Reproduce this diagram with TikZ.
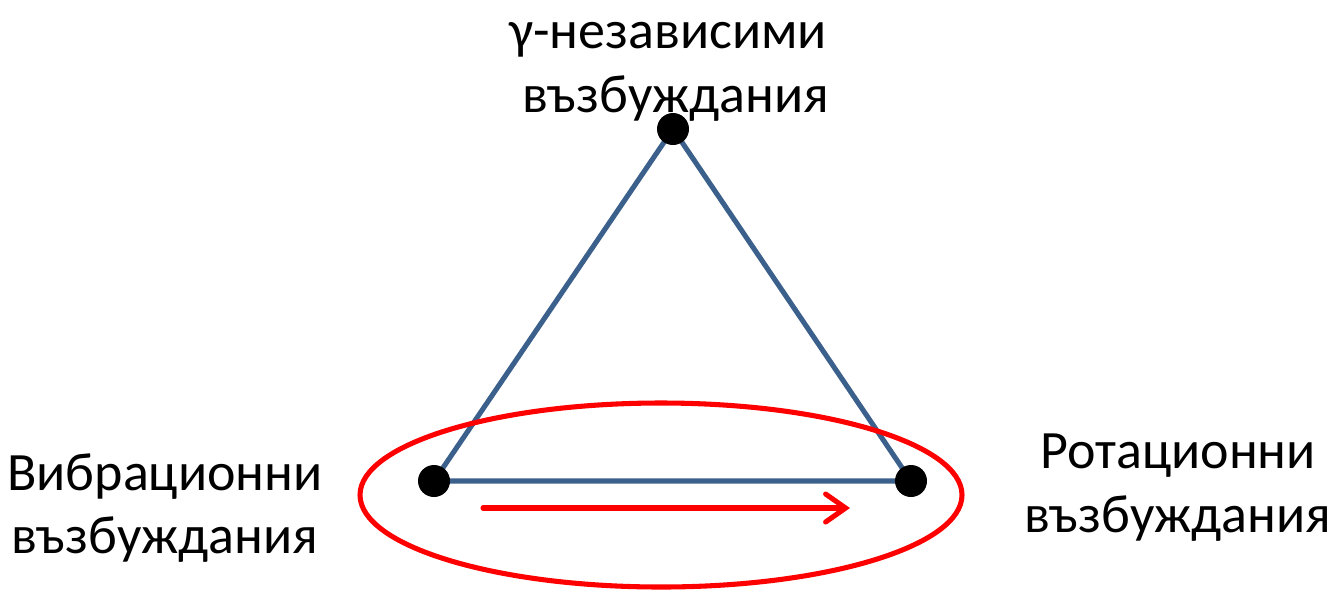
\documentclass[tikz,border=0pt]{standalone}
\usepackage{fontspec}
\setmainfont{Carlito}
\usetikzlibrary{arrows.meta,shapes.geometric}
\definecolor{edgeblue}{RGB}{60,96,140}
\tikzset{
  dot/.style={circle,fill=black,inner sep=0pt,minimum size=24pt},
  edge/.style={draw=edgeblue,line width=3.8pt},
  lbl/.style={anchor=base,inner sep=0pt,font=\fontsize{40.5}{48}\selectfont},
  ring/.style={ellipse,draw=red,line width=3.8pt,inner sep=0pt,minimum width=451.5pt,minimum height=138pt},
  flow/.style={draw=red,line width=3.8pt,line cap=round,-{Straight Barb[length=15pt,width=21pt,line cap=round]}}
}
\begin{document}
\begin{tikzpicture}[x=0.75pt,y=-0.75pt]
\useasboundingbox (0,0) rectangle (1333,594);
\coordinate (T) at (673,129);
\coordinate (L) at (434,481);
\coordinate (R) at (911,481);
\draw[edge] (L) -- (T) -- (R) -- (L);
\node[dot] (dT) at (T) {};
\node[dot] (dL) at (L) {};
\node[dot] (dR) at (R) {};
\node[ring] (E) at (661,495) {};
\coordinate (a1) at (483,508);
\coordinate (a2) at (850,508);
\draw[flow] (a1) -- (a2);
\node[lbl] (t1) at (668,48) {γ-независими};
\node[lbl] (t2) at (676,112) {възбуждания};
\node[lbl] (l1) at (165,490) {Вибрационни};
\node[lbl] (l2) at (165,553) {възбуждания};
\node[lbl] (r1) at (1178,468) {Ротационни};
\node[lbl] (r2) at (1178,532) {възбуждания};
\end{tikzpicture}
\end{document}
